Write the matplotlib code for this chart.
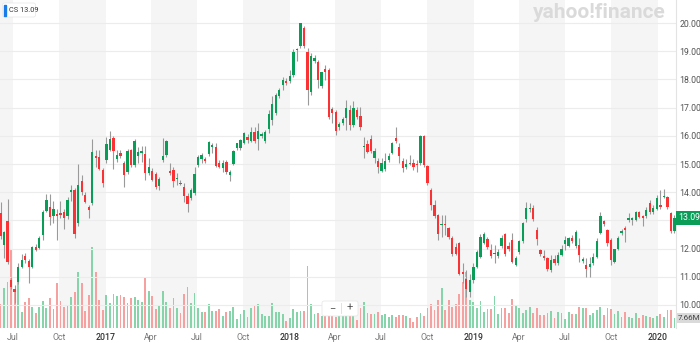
import pandas as pd
import matplotlib
matplotlib.use('Agg')
import matplotlib.pyplot as plt
import matplotlib.dates as mdates
import matplotlib.transforms as mtransforms
from matplotlib.patches import Rectangle, FancyBboxPatch

plt.rcParams['font.family'] = ['Roboto', 'DejaVu Sans']

# Velas semanais CS (Credit Suisse) - jun/2016 a fev/2020
inicio = '2016-06-06'

abertura = [
    13.25, 12.12, 12.97, 10.90, 10.55, 10.82, 11.35, 11.74, 11.56, 11.35,
    12.06, 12.02, 12.47, 13.34, 13.48, 13.15, 13.24, 13.26, 13.30, 13.15,
    14.00, 14.07, 12.89, 14.40, 13.91, 13.46, 13.60, 15.29, 15.25, 14.80,
    15.13, 15.51, 15.92, 15.17, 15.39, 15.04, 14.72, 15.48, 14.95, 15.30,
    15.40, 15.34, 14.67, 14.75, 14.64, 14.22, 15.14, 15.32, 14.75, 14.79,
    14.45, 14.34, 14.19, 13.86, 13.79, 13.98, 14.96, 15.18, 15.18, 15.36,
    15.59, 15.62, 15.05, 14.85, 15.08, 14.61, 14.99, 15.56, 15.56, 15.76,
    15.95, 15.82, 16.15, 15.89, 16.00, 15.80, 16.24, 16.56, 16.80, 17.42,
    17.81, 17.94, 17.93, 18.16, 19.05, 19.19, 19.82, 18.96, 17.54, 18.67,
    18.61, 17.77, 18.38, 18.34, 16.95, 16.84, 16.30, 16.45, 16.65, 16.92,
    16.39, 16.92, 16.71, 15.60, 15.71, 15.88, 15.22, 15.12, 14.76, 14.81,
    15.14, 15.40, 15.94, 15.62, 15.11, 14.88, 15.05, 15.04, 15.01, 15.04,
    15.98, 14.92, 14.07, 13.54, 13.20, 12.83, 12.87, 12.73, 12.38, 12.06,
    12.20, 11.15, 10.91, 10.47, 10.88, 11.35, 11.70, 12.20, 12.35, 11.94,
    11.80, 11.74, 12.09, 12.53, 12.08, 12.32, 11.43, 11.88, 12.26, 13.06,
    13.39, 13.45, 12.65, 11.94, 11.73, 11.65, 11.23, 11.62, 11.47, 11.77,
    12.16, 12.10, 12.36, 12.09, 12.12, 11.56, 11.43, 11.33, 11.47, 11.71,
    12.56, 12.99, 12.65, 12.32, 11.53, 12.00, 12.54, 12.73, 13.01, 13.02,
    13.01, 13.28, 13.15, 13.16, 13.60, 13.28, 13.42, 13.54, 13.82, 13.82,
    13.25, 12.63]

maxima = [
    13.65, 12.62, 13.77, 11.00, 10.70, 11.47, 11.80, 11.83, 11.62, 12.10,
    12.15, 12.45, 13.35, 13.93, 13.93, 13.70, 13.40, 13.69, 13.40, 13.83,
    14.26, 14.15, 14.99, 14.60, 14.00, 13.55, 15.90, 15.51, 15.51, 14.85,
    15.96, 16.16, 16.00, 15.48, 15.50, 15.10, 15.55, 15.55, 15.90, 15.62,
    15.64, 15.65, 15.20, 14.85, 14.70, 14.55, 15.91, 15.85, 15.02, 14.90,
    14.67, 14.43, 14.31, 13.96, 14.14, 14.90, 15.32, 15.40, 15.26, 15.80,
    15.73, 15.73, 15.14, 15.14, 15.14, 14.79, 15.50, 15.76, 15.90, 16.13,
    16.07, 16.30, 16.30, 16.47, 16.15, 16.21, 16.92, 17.42, 17.51, 17.69,
    18.10, 18.05, 18.34, 19.08, 19.11, 20.02, 19.90, 19.11, 18.93, 18.88,
    18.70, 18.28, 18.52, 18.40, 17.04, 16.92, 16.50, 16.68, 17.27, 17.10,
    17.25, 17.04, 17.04, 15.97, 15.85, 16.03, 15.56, 15.20, 15.20, 15.38,
    15.38, 15.79, 16.33, 15.73, 15.20, 15.17, 15.31, 15.19, 15.13, 16.02,
    16.02, 14.96, 14.16, 13.71, 13.24, 13.18, 13.18, 12.77, 12.44, 12.18,
    12.24, 11.49, 11.23, 11.11, 11.47, 11.94, 12.53, 12.59, 12.41, 12.15,
    12.12, 12.00, 12.47, 12.56, 12.24, 12.56, 11.73, 12.30, 12.95, 13.64,
    13.60, 13.53, 12.77, 12.00, 11.94, 11.71, 11.77, 11.77, 11.88, 12.12,
    12.44, 12.42, 12.48, 12.65, 12.36, 11.71, 11.65, 11.71, 11.83, 12.36,
    13.31, 13.02, 12.71, 12.36, 12.00, 12.44, 12.68, 12.80, 13.25, 13.13,
    13.34, 13.34, 13.19, 13.48, 13.72, 13.54, 13.90, 14.08, 14.13, 13.85,
    13.31, 13.19]

minimas = [
    12.35, 11.65, 11.45, 10.55, 10.05, 10.75, 11.30, 11.50, 10.78, 11.30,
    11.90, 11.98, 12.30, 13.30, 12.83, 12.90, 12.30, 13.10, 12.71, 13.05,
    13.70, 12.38, 12.80, 13.90, 13.60, 13.10, 13.55, 14.90, 14.80, 14.19,
    15.05, 15.45, 14.84, 15.07, 15.20, 14.19, 14.65, 14.90, 14.90, 15.02,
    15.08, 14.43, 14.60, 14.38, 14.13, 14.08, 15.06, 15.26, 14.60, 14.19,
    14.25, 14.25, 13.66, 13.31, 13.72, 13.90, 14.90, 15.05, 15.02, 15.30,
    15.38, 14.88, 14.85, 14.73, 14.65, 14.41, 14.95, 15.50, 15.50, 15.70,
    15.73, 15.78, 15.75, 15.50, 15.92, 15.73, 16.09, 16.39, 16.74, 17.35,
    17.63, 17.81, 17.88, 18.10, 18.64, 19.10, 19.10, 17.10, 17.45, 18.58,
    17.69, 17.70, 17.99, 16.60, 16.45, 16.03, 16.20, 16.38, 16.21, 16.21,
    16.33, 16.60, 16.21, 15.20, 15.38, 15.40, 15.02, 14.67, 14.70, 14.75,
    15.08, 15.35, 15.75, 15.02, 14.73, 14.82, 14.95, 14.78, 14.72, 14.98,
    14.90, 14.25, 13.36, 13.10, 12.30, 12.41, 12.47, 12.35, 11.75, 11.76,
    11.05, 10.76, 10.29, 10.29, 10.76, 11.30, 11.65, 12.15, 12.00, 11.68,
    11.47, 11.68, 12.03, 11.75, 11.90, 11.47, 11.38, 11.82, 12.20, 12.95,
    13.30, 12.98, 12.12, 11.72, 11.60, 11.22, 11.18, 11.41, 11.42, 11.72,
    11.94, 12.05, 12.20, 12.02, 11.53, 11.50, 10.99, 10.99, 11.42, 11.65,
    12.50, 12.80, 12.10, 11.41, 11.47, 11.95, 12.48, 12.24, 12.95, 12.83,
    12.96, 13.08, 12.80, 13.10, 13.22, 13.22, 13.36, 13.40, 13.78, 13.40,
    12.56, 12.56]

fechamento = [
    12.45, 12.58, 11.53, 10.64, 10.46, 11.35, 11.59, 11.59, 11.35, 12.06,
    11.94, 12.38, 13.30, 13.74, 13.12, 13.42, 13.17, 13.20, 13.10, 13.74,
    14.09, 12.50, 14.25, 14.00, 13.65, 13.38, 15.43, 15.22, 14.84, 14.33,
    15.72, 15.90, 15.46, 15.33, 15.27, 14.60, 15.45, 14.95, 15.81, 15.44,
    15.47, 14.67, 14.88, 14.43, 14.17, 14.47, 15.30, 15.82, 14.69, 14.40,
    14.51, 14.28, 13.87, 13.57, 14.08, 14.64, 15.26, 15.33, 15.11, 15.77,
    15.66, 14.93, 14.90, 15.05, 14.72, 14.73, 15.47, 15.73, 15.85, 16.09,
    15.85, 16.13, 15.80, 16.18, 16.07, 16.15, 16.77, 17.14, 17.45, 17.63,
    17.99, 17.89, 18.14, 18.99, 19.09, 20.00, 19.17, 17.61, 18.82, 18.76,
    17.99, 18.25, 18.28, 16.68, 16.82, 16.18, 16.41, 16.60, 17.00, 16.39,
    17.00, 16.68, 16.33, 15.64, 15.44, 15.47, 15.46, 14.90, 15.05, 15.12,
    15.28, 15.73, 15.82, 15.30, 14.85, 14.99, 14.99, 14.90, 14.96, 15.98,
    14.96, 14.33, 13.54, 13.15, 12.53, 12.86, 12.84, 12.41, 11.80, 11.82,
    11.11, 11.10, 10.56, 10.88, 11.35, 11.88, 12.41, 12.53, 12.06, 11.73,
    11.85, 11.88, 12.38, 11.80, 11.98, 11.53, 11.67, 12.26, 12.89, 13.45,
    13.44, 13.04, 12.35, 11.80, 11.65, 11.29, 11.59, 11.47, 11.77, 12.00,
    12.30, 12.36, 12.27, 12.60, 11.77, 11.62, 11.29, 11.45, 11.71, 12.27,
    13.16, 12.87, 12.18, 11.61, 11.97, 12.36, 12.62, 12.67, 13.08, 13.07,
    13.31, 13.13, 13.09, 13.37, 13.28, 13.45, 13.78, 13.46, 13.87, 13.46,
    12.62, 13.09]

# Volume semanal (milhoes)
volume = [
    18.4, 30.6, 35.2, 59.7, 29.1, 46.7, 12.3, 19.9, 23.0, 16.1,
    11.5, 16.1, 20.7, 15.3, 23.0, 14.6, 34.5, 20.7, 16.1, 16.9,
    23.7, 27.6, 42.9, 34.5, 13.0, 25.3, 62.0, 42.9, 21.4, 13.8,
    25.3, 19.2, 26.0, 24.5, 25.3, 23.7, 19.2, 23.0, 23.7, 21.4,
    19.9, 39.1, 28.3, 24.5, 14.6, 17.6, 28.3, 19.9, 15.3, 23.0,
    15.3, 11.5, 26.0, 31.4, 19.2, 26.8, 15.3, 12.3, 12.3, 18.4,
    13.0, 13.0, 14.6, 9.2, 12.3, 13.0, 16.1, 6.9, 10.7, 13.8,
    8.4, 15.3, 17.6, 18.4, 10.7, 9.2, 9.2, 19.2, 12.3, 12.3,
    10.7, 5.4, 7.7, 14.6, 12.3, 13.0, 13.0, 47.5, 18.4, 10.7,
    11.5, 9.2, 11.5, 10.7, 13.8, 8.4, 10.7, 10.7, 11.5, 13.0,
    10.0, 6.1, 15.3, 19.9, 11.5, 10.7, 10.7, 12.3, 10.0, 10.7,
    8.4, 10.0, 8.4, 10.0, 10.0, 9.2, 7.7, 4.6, 8.4, 11.5,
    9.2, 15.3, 18.4, 13.8, 21.4, 30.6, 13.8, 21.4, 16.1, 18.4,
    26.0, 35.2, 42.9, 21.4, 19.9, 15.3, 20.7, 12.3, 14.6, 14.6,
    24.5, 10.7, 15.3, 15.3, 11.5, 22.2, 17.6, 15.3, 11.5, 13.8,
    16.1, 11.5, 15.3, 10.0, 10.0, 11.5, 13.0, 7.7, 12.3, 11.5,
    6.9, 12.3, 10.7, 10.7, 16.1, 15.3, 15.3, 10.0, 11.5, 13.8,
    16.1, 10.0, 15.3, 14.6, 10.7, 13.0, 8.4, 12.3, 8.4, 7.7,
    11.5, 7.7, 10.0, 9.2, 8.4, 7.7, 9.2, 10.7, 8.4, 13.8,
    13.8, 7.66]

ultimo_preco = 13.09
ultimo_volume = 7.66

datas = pd.date_range(inicio, periods=len(fechamento), freq='7D')
x = mdates.date2num(datas)

df = pd.DataFrame({'o': abertura, 'h': maxima, 'l': minimas, 'c': fechamento, 'v': volume}, index=datas)
sobe = df['c'] >= df['o']

verde, vermelho = '#0a9d58', '#fa3236'
verde_claro, vermelho_claro = '#86d4aa', '#f6a0a0'

W, H = 700, 343
fig = plt.figure(figsize=(W / 100, H / 100), dpi=100)
ret = [0, 15 / H, 676 / W, 328 / H]

# eixo de volume (fundo) e eixo de preco por cima
ax_vol = fig.add_axes(ret)
ax = fig.add_axes(ret, sharex=ax_vol)
ax.patch.set_visible(False)

x0 = mdates.date2num(pd.Timestamp('2016-06-05'))
x1 = mdates.date2num(pd.Timestamp('2020-02-06'))
ax_vol.set_xlim(x0, x1)

# faixas cinzas por trimestre (abr-jul, out-jan)
for ano in range(2016, 2021):
    for m in (4, 10):
        a = pd.Timestamp(ano, m, 1)
        b = a + pd.DateOffset(months=3)
        ax_vol.axvspan(mdates.date2num(a), mdates.date2num(b), color='#f5f5f5', lw=0, zorder=0)

ax_vol.bar(x, df['v'], width=3.6, color=[verde_claro if s else vermelho_claro for s in sobe],
           lw=0, zorder=2)
ax_vol.set_ylim(0, 251)
ax_vol.set_yticks([])
for s in ax_vol.spines.values():
    s.set_visible(False)

# velas
ax.vlines(x, df['l'], df['h'], color='#9a9a9a', lw=0.8, zorder=2)
corpo = (df['c'] - df['o']).abs().clip(lower=0.04)
base = df[['o', 'c']].min(axis=1)
ax.bar(x, corpo, bottom=base, width=4.6, color=[verde if s else vermelho for s in sobe], lw=0, zorder=3)

ax.set_ylim(9.18, 20.82)
niveis = list(range(10, 21))
ax.set_yticks(niveis)
ax.set_yticklabels(['' if v == 13 else '%.2f' % v for v in niveis])
ax.yaxis.tick_right()
ax.grid(axis='y', color='#ececec', lw=0.8, zorder=1)
ax.tick_params(axis='y', length=0, pad=2.5, labelsize=6.3, labelcolor='#555555')

# eixo x: inicio de cada trimestre
marcas = pd.date_range('2016-07-01', '2020-01-01', freq='QS')
ax.set_xticks(mdates.date2num(marcas))
ax.set_xticklabels([str(d.year) if d.month == 1 else d.strftime('%b') for d in marcas])
ax.tick_params(axis='x', length=0, pad=3.5, labelsize=6.3, labelcolor='#777777')
for lbl in ax.get_xticklabels():
    if lbl.get_text().isdigit():
        lbl.set_color('#333333')
        lbl.set_fontweight('medium')
ax_vol.tick_params(axis='x', length=0, labelbottom=False)

for k, s in ax.spines.items():
    s.set_visible(k == 'right')
ax.spines['right'].set_color('#e3e3e3')
ax.spines['right'].set_linewidth(0.8)

# etiquetas do ultimo preco e volume
trans_p = mtransforms.blended_transform_factory(ax.transAxes, ax.transData)
ax.text(1.003, ultimo_preco, '%.2f' % ultimo_preco, transform=trans_p, ha='left', va='center',
        fontsize=6.3, color='white', clip_on=False, zorder=10,
        bbox=dict(boxstyle='square,pad=0.25', fc=verde, ec='none'))
trans_v = mtransforms.blended_transform_factory(ax_vol.transAxes, ax_vol.transData)
ax_vol.text(1.003, ultimo_volume, '%.2fM' % ultimo_volume, transform=trans_v, ha='left', va='center',
            fontsize=5.8, color='#444444', clip_on=False, zorder=10,
            bbox=dict(boxstyle='square,pad=0.25', fc='#dadada', ec='none'))

# legenda no canto superior esquerdo
px = fig.dpi_scale_trans
fig.add_artist(FancyBboxPatch((2.5 / 100, (H - 17) / 100), 33 / 100, 14 / 100,
                              boxstyle='round,pad=0,rounding_size=0.02', transform=px,
                              fc='white', ec='#e6e6e6', lw=0.5, zorder=20))
fig.add_artist(Rectangle((4 / 100, (H - 15.5) / 100), 2.2 / 100, 11 / 100, transform=px,
                         color='#1a7ce8', zorder=21))
fig.text(9 / W, 1 - 10 / H, 'CS 13.09', fontsize=5.3, color='#333333', va='center', ha='left', zorder=22)

# marca d'agua
fig.text(533 / W, 1 - 13 / H, 'yahoo!finance', fontsize=15, fontweight='bold', color='#dadada',
         va='center', ha='left', zorder=5)

# controle de zoom
fig.add_artist(FancyBboxPatch((322 / 100, (H - 316) / 100), 36 / 100, 15 / 100,
                              boxstyle='round,pad=0,rounding_size=0.02', transform=px,
                              fc='white', ec='#e4e4e4', lw=0.5, zorder=20))
fig.text(332 / W, 1 - 308 / H, '\u2212', fontsize=8, color='#555555', va='center', ha='center', zorder=21)
fig.text(350 / W, 1 - 308 / H, '+', fontsize=8, color='#555555', va='center', ha='center', zorder=21)
fig.add_artist(plt.Line2D([341 / W, 341 / W], [1 - 303 / H, 1 - 313 / H], transform=fig.transFigure,
                          color='#dddddd', lw=0.6, zorder=21))

fig.savefig('out.png', dpi=100)
